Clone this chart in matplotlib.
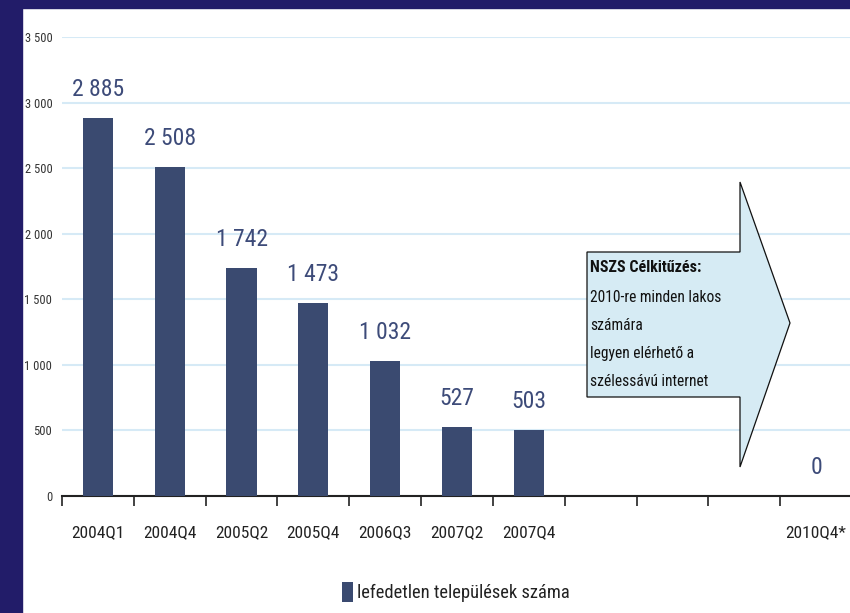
import matplotlib
matplotlib.use("Agg")
import matplotlib.pyplot as plt
from matplotlib.patches import Polygon, Rectangle
import numpy as np

categories = ["2004Q1", "2004Q4", "2005Q2", "2005Q4", "2006Q3", "2007Q2", "2007Q4", "", "", "", "2010Q4*"]
values = [2885, 2508, 1742, 1473, 1032, 527, 503, None, None, None, 0]
value_labels = ["2 885", "2 508", "1 742", "1 473", "1 032", "527", "503", "", "", "", "0"]
yticks = [0, 500, 1000, 1500, 2000, 2500, 3000, 3500]
ytick_labels = ["0", "500", "1 000", "1 500", "2 000", "2 500", "3 000", "3 500"]
legend_label = "lefedetlen települések száma"
callout_title = "NSZS Célkitűzés:"
callout_lines = ["2010-re minden lakos", "számára", "legyen elérhető a", "szélessávú internet"]

FONT = ["Roboto Condensed", "Liberation Sans Narrow", "Liberation Sans", "DejaVu Sans"]
plt.rcParams["font.family"] = FONT

W, H = 850, 613
fig = plt.figure(figsize=(W / 100, H / 100), dpi=100)
fig.patch.set_facecolor("white")

def fx(px):
    return px / W

def fy(py):
    return 1 - py / H

navy = "#221c69"
fig.patches.append(Rectangle((0, 0), fx(22), 1, transform=fig.transFigure, color=navy, zorder=-1))
fig.patches.append(Rectangle((0, fy(8)), 1, 1 - fy(8), transform=fig.transFigure, color=navy, zorder=-1))

ax = fig.add_axes([fx(62), fy(496), fx(852) - fx(62), fy(37) - fy(496)])
ax.set_facecolor("none")
x = np.arange(len(categories))
bar_color = "#3a4a70"
bar_vals = [v if v is not None else 0 for v in values]
ax.bar(x, bar_vals, width=0.42, color=bar_color, zorder=3)

for xi, v, lab in zip(x, bar_vals, value_labels):
    if lab:
        ax.annotate(lab, (xi, v), xytext=(0, 12), textcoords="offset points",
                    ha="center", va="bottom", fontsize=17, color="#3d4b79",
                    annotation_clip=False)

ax.set_xlim(-0.5, len(categories) - 0.5)
ax.set_ylim(0, 3500)
ax.set_yticks(yticks)
ax.set_yticklabels(ytick_labels, fontsize=9, color="#333333")
ax.set_xticks(x)
ax.set_xticklabels(categories, fontsize=12.5, color="#222222")
ax.set_xticks(np.arange(len(categories) + 1) - 0.5, minor=True)
ax.tick_params(axis="x", which="major", length=0, pad=21)
ax.tick_params(axis="x", which="minor", length=7, width=1.2, color="#222222", direction="out")
ax.tick_params(axis="y", length=0, pad=7)
for s in ["left", "right", "top"]:
    ax.spines[s].set_visible(False)
ax.spines["bottom"].set_color("#222222")
ax.spines["bottom"].set_linewidth(1.5)
ax.yaxis.grid(True, color="#d6eaf6", linewidth=1.5, zorder=0)
ax.set_axisbelow(True)

# callout arrow
pts = [(587, 252), (740, 252), (740, 182), (790, 323), (740, 467), (740, 397), (587, 397)]
poly = Polygon([(fx(px), fy(py)) for px, py in pts], closed=True, transform=fig.transFigure,
               facecolor="#d6ebf4", edgecolor="#111111", linewidth=0.9, zorder=5)
fig.patches.append(poly)
fig.text(fx(590), fy(268), callout_title, fontsize=11.5, fontweight="bold", color="#111111",
         va="center", ha="left", zorder=6)
for i, line in enumerate(callout_lines):
    fig.text(fx(590), fy(297 + i * 28.2), line, fontsize=11.2, color="#111111",
             va="center", ha="left", zorder=6)

# legend
leg_handle = Rectangle((0, 0), 1, 1, facecolor=bar_color)
fig.legend([leg_handle], [legend_label], loc="center", bbox_to_anchor=(fx(456), fy(592)),
           frameon=False, fontsize=13.3, handlelength=0.6, handleheight=1.25, handletextpad=0.25,
           labelcolor="#222222")

fig.savefig("out.png", dpi=100, facecolor="white")
